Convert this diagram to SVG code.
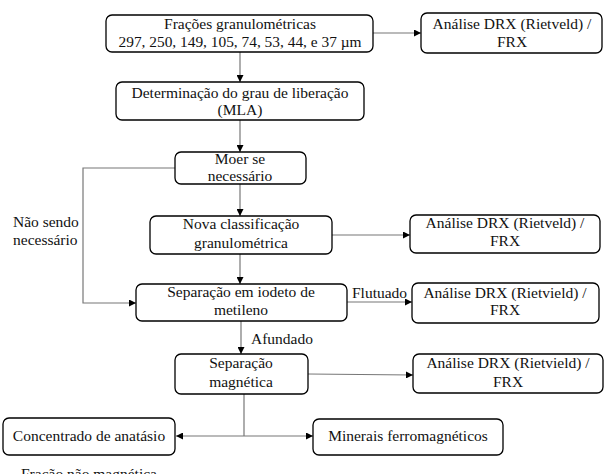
<svg xmlns="http://www.w3.org/2000/svg" width="605" height="474" viewBox="0 0 605 474">
<defs>
<marker id="ah" viewBox="0 0 10 10" refX="10" refY="5" markerWidth="7" markerHeight="7" markerUnits="userSpaceOnUse" orient="auto">
<path d="M0,0 L10,5 L0,10 z" fill="#000"/>
</marker>
</defs>
<rect width="605" height="474" fill="#fff"/>
<g id="connectors" fill="none" stroke="#777" stroke-width="1.2">
<path marker-end="url(#ah)" d="M373,33 H421"/>
<path marker-end="url(#ah)" d="M240,52 V82"/>
<path marker-end="url(#ah)" d="M240,120 V152"/>
<path marker-end="url(#ah)" d="M240,184 V216"/>
<path marker-end="url(#ah)" d="M332,235 H410"/>
<path marker-end="url(#ah)" d="M240,254 V284"/>
<path marker-end="url(#ah)" d="M175,168 H83 V303 H136"/>
<path marker-end="url(#ah)" d="M347,302 H412"/>
<path marker-end="url(#ah)" d="M241,321 V354"/>
<path marker-end="url(#ah)" d="M308,374 L413,375"/>
<path d="M244,394 V436"/>
<path marker-end="url(#ah)" d="M244,436 H176"/>
<path marker-end="url(#ah)" d="M244,436 H313"/>
</g>
<g id="labels" font-family="Liberation Serif" font-size="15.5" fill="#111">
<text x="13" y="227" font-family="Liberation Serif">Não sendo</text>
<text x="13" y="245" font-family="Liberation Serif">necessário</text>
<text x="352" y="298" font-family="Liberation Serif">Flutuado</text>
<text x="251" y="344" font-family="Liberation Serif">Afundado</text>
<text x="21" y="479" font-family="Liberation Serif">Fração não magnética</text>
</g>
<g id="fracoes" font-family="Liberation Serif" font-size="15.5" fill="#111" text-anchor="middle">
<rect x="106" y="15" width="267" height="37" rx="6" fill="#fff" stroke="#000" stroke-width="1.3"/>
<text x="240" y="29" font-family="Liberation Serif">Frações granulométricas</text>
<text x="240" y="47" font-family="Liberation Serif" textLength="243" lengthAdjust="spacingAndGlyphs">297, 250, 149, 105, 74, 53, 44, e 37 µm</text>
</g>
<g id="analise1" font-family="Liberation Serif" font-size="15.5" fill="#111" text-anchor="middle">
<rect x="421" y="13" width="181" height="40" rx="6" fill="#fff" stroke="#000" stroke-width="1.3"/>
<text x="512" y="29" font-family="Liberation Serif">Análise DRX (Rietveld) /</text>
<text x="512" y="47" font-family="Liberation Serif">FRX</text>
</g>
<g id="mla" font-family="Liberation Serif" font-size="15.5" fill="#111" text-anchor="middle">
<rect x="116" y="82" width="248" height="38" rx="6" fill="#fff" stroke="#000" stroke-width="1.3"/>
<text x="240" y="98" font-family="Liberation Serif">Determinação do grau de liberação</text>
<text x="240" y="115" font-family="Liberation Serif">(MLA)</text>
</g>
<g id="moer" font-family="Liberation Serif" font-size="15.5" fill="#111" text-anchor="middle">
<rect x="175" y="152" width="131" height="32" rx="6" fill="#fff" stroke="#000" stroke-width="1.3"/>
<text x="240" y="164" font-family="Liberation Serif">Moer se</text>
<text x="240" y="181" font-family="Liberation Serif">necessário</text>
</g>
<g id="nova" font-family="Liberation Serif" font-size="15.5" fill="#111" text-anchor="middle">
<rect x="150" y="216" width="182" height="38" rx="6" fill="#fff" stroke="#000" stroke-width="1.3"/>
<text x="241" y="229" font-family="Liberation Serif">Nova classificação</text>
<text x="241" y="248" font-family="Liberation Serif">granulométrica</text>
</g>
<g id="analise2" font-family="Liberation Serif" font-size="15.5" fill="#111" text-anchor="middle">
<rect x="410" y="215" width="190" height="38" rx="6" fill="#fff" stroke="#000" stroke-width="1.3"/>
<text x="505" y="228" font-family="Liberation Serif">Análise DRX (Rietveld) /</text>
<text x="505" y="246" font-family="Liberation Serif">FRX</text>
</g>
<g id="iodeto" font-family="Liberation Serif" font-size="15.5" fill="#111" text-anchor="middle">
<rect x="136" y="284" width="211" height="37" rx="6" fill="#fff" stroke="#000" stroke-width="1.3"/>
<text x="241" y="297" font-family="Liberation Serif">Separação em iodeto de</text>
<text x="241" y="315" font-family="Liberation Serif">metileno</text>
</g>
<g id="analise3" font-family="Liberation Serif" font-size="15.5" fill="#111" text-anchor="middle">
<rect x="412" y="283" width="187" height="40" rx="6" fill="#fff" stroke="#000" stroke-width="1.3"/>
<text x="505" y="298" font-family="Liberation Serif">Análise DRX (Rietvield) /</text>
<text x="505" y="315" font-family="Liberation Serif">FRX</text>
</g>
<g id="magnetica" font-family="Liberation Serif" font-size="15.5" fill="#111" text-anchor="middle">
<rect x="175" y="354" width="133" height="40" rx="6" fill="#fff" stroke="#000" stroke-width="1.3"/>
<text x="241" y="368" font-family="Liberation Serif">Separação</text>
<text x="241" y="387" font-family="Liberation Serif">magnética</text>
</g>
<g id="analise4" font-family="Liberation Serif" font-size="15.5" fill="#111" text-anchor="middle">
<rect x="413" y="354" width="190" height="39" rx="6" fill="#fff" stroke="#000" stroke-width="1.3"/>
<text x="508" y="368" font-family="Liberation Serif">Análise DRX (Rietvield) /</text>
<text x="508" y="387" font-family="Liberation Serif">FRX</text>
</g>
<g id="concentrado" font-family="Liberation Serif" font-size="15.5" fill="#111" text-anchor="middle">
<rect x="3" y="418" width="172" height="37" rx="6" fill="#fff" stroke="#000" stroke-width="1.3"/>
<text x="89" y="441" font-family="Liberation Serif">Concentrado de anatásio</text>
</g>
<g id="minerais" font-family="Liberation Serif" font-size="15.5" fill="#111" text-anchor="middle">
<rect x="313" y="419" width="190" height="36" rx="6" fill="#fff" stroke="#000" stroke-width="1.3"/>
<text x="408" y="441" font-family="Liberation Serif">Minerais ferromagnéticos</text>
</g>
</svg>
